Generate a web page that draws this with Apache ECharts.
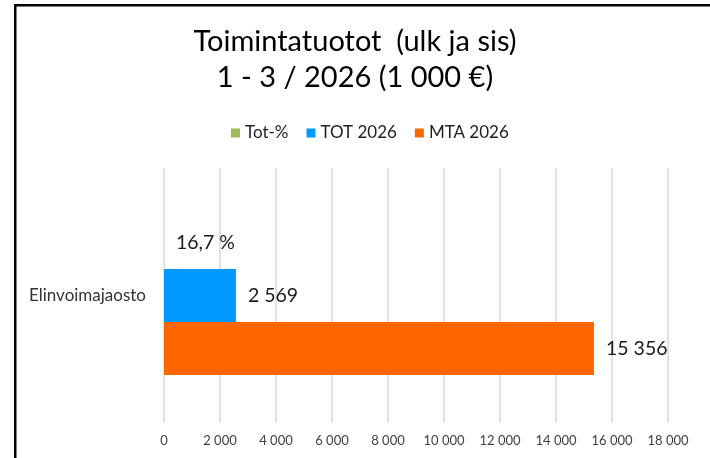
<!DOCTYPE html>
<html lang="fi">
<head>
    <meta charset="UTF-8">
    <title>Toimintatuotot</title>
    <script src="https://cdn.jsdelivr.net/npm/echarts@6/dist/echarts.min.js"></script>
</head>
<style>
html,body{margin: 0;padding: 0;background: #fff}
#chartBox{width: 710px;height: 458px}
</style>
<body>
    <div id="chartBox"></div>
</body>
<script>
// data
const categories = ['Elinvoimajaosto'];
const totPct = [0.167];
const tot2026 = [2569];
const mta2026 = [15356];
const xTicks = [0, 2000, 4000, 6000, 8000, 10000, 12000, 14000, 16000, 18000];

const FONT = 'Lato';

// 1 000 muotoilu
function fmtNum(v) {
    return String(Math.round(v)).replace(/\B(?=(\d{3})+(?!\d))/g, ' ');
}
function fmtPct(v) {
    return (v * 100).toFixed(1).replace('.', ',') + ' %';
}

function makeSeries(name, data, color, formatter) {
    return {
        type: 'bar',
        name: name,
        data: data,
        barWidth: 53,
        barGap: 0,
        itemStyle: {color: color},
        label: {
            show: true,
            position: 'right',
            distance: 12,
            color: '#1a1a1a',
            fontFamily: FONT,
            fontSize: 19.5,
            formatter: p => formatter(p.value)
        }
    };
}

let chartObj = echarts.init(document.getElementById('chartBox'));
let option = {
    animation: false,
    backgroundColor: '#fff',
    title: {
        text: 'Toimintatuotot  (ulk ja sis)\n1 - 3 / 2026 (1 000 €)',
        left: 'center',
        top: 24,
        padding: 0,
        textStyle: {
            fontFamily: FONT,
            fontSize: 29,
            fontWeight: 'normal',
            color: '#000',
            lineHeight: 36
        }
    },
    legend: {
        top: 119,
        left: 226,
        itemWidth: 9,
        itemHeight: 9,
        itemGap: 18,
        icon: 'rect',
        data: ['Tot-%', 'TOT 2026', 'MTA 2026'],
        textStyle: {fontFamily: FONT, fontSize: 17, color: '#1f1f1f', lineHeight: 18}
    },
    grid: {left: 164, right: 42, top: 168, bottom: 35, containLabel: false},
    xAxis: {
        type: 'value',
        min: xTicks[0],
        max: xTicks[xTicks.length - 1],
        interval: 2000,
        axisLine: {show: false},
        axisTick: {show: false},
        splitLine: {lineStyle: {color: '#d9d9d9', width: 1.5}},
        axisLabel: {
            margin: 11,
            color: '#404040',
            fontFamily: FONT,
            fontSize: 13,
            formatter: v => fmtNum(v)
        }
    },
    yAxis: {
        type: 'category',
        inverse: true,
        data: categories,
        axisLine: {show: false},
        axisTick: {show: false},
        axisLabel: {margin: 18, color: '#333', fontFamily: FONT, fontSize: 17}
    },
    series: [
        makeSeries('Tot-%', totPct, '#9bbb59', fmtPct),
        makeSeries('TOT 2026', tot2026, '#0099ff', fmtNum),
        makeSeries('MTA 2026', mta2026, '#ff6600', fmtNum)
    ],
    graphic: [
        {type: 'rect', left: 14, top: 4, shape: {width: 696, height: 2.5}, style: {fill: '#000'}},
        {type: 'rect', left: 14, top: 4, shape: {width: 2.5, height: 454}, style: {fill: '#000'}}
    ]
};
chartObj.setOption(option);
</script>
</html>
